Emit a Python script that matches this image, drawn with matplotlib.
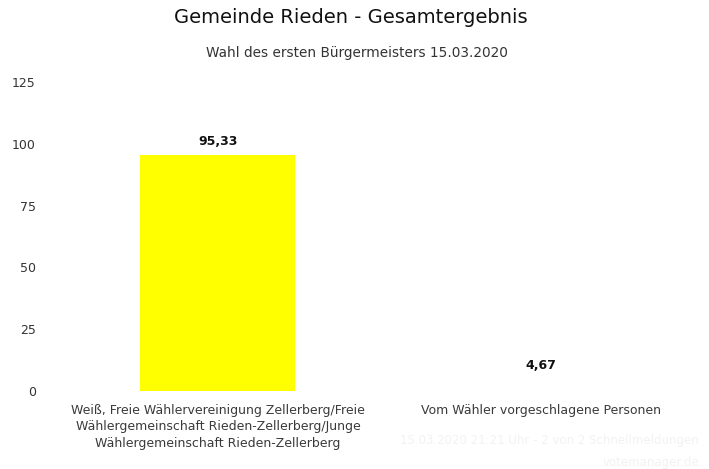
import numpy as np
import matplotlib.pyplot as plt

plt.rcParams['font.family'] = ['DejaVu Sans']

# Data
categories = ['Weiß, Freie Wählervereinigung Zellerberg/Freie\nWählergemeinschaft Rieden-Zellerberg/Junge\nWählergemeinschaft Rieden-Zellerberg',
              'Vom Wähler vorgeschlagene Personen']
values = [95.33, 4.67]
bar_colors = ['#ffff00', '#ffffff']
y_ticks = [0, 25, 50, 75, 100, 125]

fig = plt.figure(figsize=(7.09, 4.69), dpi=100)
ax = fig.add_axes([0.0797, 0.1663, 0.911, 0.6587])

x = np.arange(len(categories))
ax.bar(x, values, width=0.48, color=bar_colors)

for xi, v in zip(x, values):
    label = f"{v:.2f}".replace('.', ',')
    ax.annotate(label, (xi, v), xytext=(0, 5.5), textcoords='offset points',
                ha='center', va='bottom', fontsize=9, fontweight='bold', color='#111111')

ax.set_xlim(-0.5, 1.5)
ax.set_ylim(0, 125)
ax.set_yticks(y_ticks)
ax.set_yticklabels([str(t) for t in y_ticks], fontsize=9, color='#333333')
ax.set_xticks(x)
ax.set_xticklabels(categories, fontsize=9, color='#3a3a3a', linespacing=1.35)
ax.tick_params(axis='both', length=0)
ax.tick_params(axis='y', pad=15)
ax.tick_params(axis='x', pad=9)
for s in ax.spines.values():
    s.set_visible(False)

fig.text(0.495, 0.962, 'Gemeinde Rieden - Gesamtergebnis', ha='center', va='center',
         fontsize=14, color='#111111')
fig.text(0.503, 0.887, 'Wahl des ersten Bürgermeisters 15.03.2020', ha='center', va='center',
         fontsize=9.8, color='#333333')

# faint footer
fig.text(0.986, 0.06, '15.03.2020 21:21 Uhr - 2 von 2 Schnellmeldungen', ha='right', va='center',
         fontsize=8.5, color='#f2f2f2')
fig.text(0.986, 0.013, 'votemanager.de', ha='right', va='center',
         fontsize=8.5, color='#f2f2f2')

fig.savefig('out.png', dpi=100)
